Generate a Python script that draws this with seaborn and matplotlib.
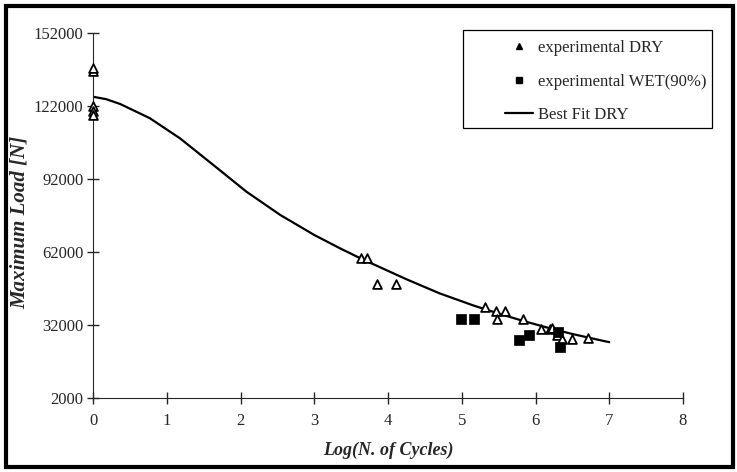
import pandas as pd
import matplotlib
matplotlib.use("Agg")
import matplotlib.pyplot as plt
from matplotlib.lines import Line2D
from matplotlib.patches import Rectangle
import seaborn as sns

# experimental DRY (log cycles, max load in N)
dry_x = [0.0, 0.0, 0.0, 0.0, 0.0, 3.63, 3.71, 3.85, 4.11, 5.32, 5.46, 5.58, 5.48, 5.83,
         6.07, 6.20, 6.23, 6.29, 6.36, 6.50, 6.71]
dry_y = [136500, 137500, 122000, 120000, 118500, 59500, 59500, 48900, 48900, 39500, 37600, 37900,
         34500, 34500, 30200, 30200, 30600, 27900, 26100, 26100, 26800]

# experimental WET(90%)
wet_x = [4.99, 5.16, 5.78, 5.91, 6.30, 6.33]
wet_y = [34500, 34500, 25800, 27900, 29000, 23100]

# best fit DRY
fit_x = [0.0, 0.18, 0.37, 0.77, 1.18, 1.63, 2.08, 2.54, 3.0, 3.35, 3.64, 3.80, 4.25, 4.70,
         5.16, 5.5, 5.83, 6.2, 6.5, 6.87, 7.0]
fit_y = [125800, 124800, 122800, 117000, 108700, 97800, 86800, 77200, 69000, 63500, 59200,
         57000, 50800, 45000, 40000, 36700, 33700, 30600, 28300, 25800, 24950]

x_ticks = [0, 1, 2, 3, 4, 5, 6, 7, 8]
y_ticks = [2000, 32000, 62000, 92000, 122000, 152000]
legend_labels = ["experimental DRY", "experimental WET(90%)", "Best Fit DRY"]

sns.set_style("ticks")
plt.rcParams['font.family'] = ['Liberation Serif', 'DejaVu Serif']

W, H = 737, 472
fig = plt.figure(figsize=(W / 100, H / 100), dpi=100)
ax = fig.add_axes([93 / W, 1 - 398 / H, 590 / W, 365 / H])

dry = pd.DataFrame({"x": dry_x, "y": dry_y})
wet = pd.DataFrame({"x": wet_x, "y": wet_y})
fit = pd.DataFrame({"x": fit_x, "y": fit_y})

sns.scatterplot(data=dry, x="x", y="y", ax=ax, marker="^", s=40,
                facecolor="white", edgecolor="black", linewidth=1.3,
                zorder=3, clip_on=False, legend=False)
sns.scatterplot(data=wet, x="x", y="y", ax=ax, marker="s", s=45,
                color="black", edgecolor="black", linewidth=0.5,
                zorder=3, clip_on=False, legend=False)
sns.lineplot(data=fit, x="x", y="y", ax=ax, color="black", linewidth=1.6,
             zorder=2, legend=False)

ax.set_xlim(0, 8)
ax.set_ylim(2000, 152000)
ax.set_xticks(x_ticks)
ax.set_yticks(y_ticks)
ax.tick_params(direction="inout", length=8, width=1, labelsize=12)
ax.tick_params(axis="y", pad=3)
ax.tick_params(axis="x", pad=7)
ax.spines["top"].set_visible(False)
ax.spines["right"].set_visible(False)

ax.set_xlabel("Log(N. of Cycles)", fontsize=13, fontweight="bold", style="italic", labelpad=9)
ax.set_ylabel("Maximum Load [N]", fontsize=15, fontweight="bold", style="italic")
ax.yaxis.set_label_coords(-0.107, 0.48)

# legend: entries without frame, box drawn separately (large left gap as in the original)
handles = [
    Line2D([], [], marker="^", color="black", linestyle="none", markersize=5),
    Line2D([], [], marker="s", color="black", linestyle="none", markersize=5),
    Line2D([], [], color="black", linewidth=1.6),
]
ax.legend(handles, legend_labels, loc="upper left",
          bbox_to_anchor=(505 / W, 1 - 40 / H), bbox_transform=fig.transFigure,
          frameon=False, fontsize=12, labelspacing=1.05, handlelength=1.7,
          handletextpad=0.3, borderpad=0, borderaxespad=0)
fig.patches.append(Rectangle((463 / W, 1 - 128 / H), 249 / W, 98 / H, transform=fig.transFigure,
                             fill=False, edgecolor="black", linewidth=0.9))

# thick outer frame around the whole figure
fig.patches.append(Rectangle((6 / W, 5 / H), 727 / W, 461 / H, transform=fig.transFigure,
                             fill=False, edgecolor="black", linewidth=3))

fig.savefig("out.png", dpi=100)
